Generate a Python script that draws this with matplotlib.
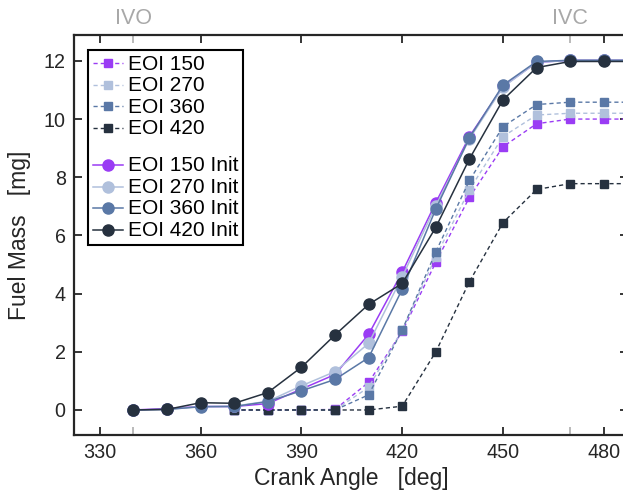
import matplotlib
matplotlib.use("Agg")
import matplotlib.pyplot as plt
from matplotlib.lines import Line2D
from matplotlib.ticker import FixedLocator

plt.rcParams['font.family'] = ['Liberation Sans', 'DejaVu Sans']

# crank angle points
ca_init = [340, 350, 360, 370, 380, 390, 400, 410, 420, 430, 440, 450, 460, 470, 480, 490]
ca_eoi = [370, 380, 390, 400, 410, 420, 430, 440, 450, 460, 470, 480, 490]

# fuel mass [mg], dashed series (square markers)
eoi150 = [0, 0, 0, 0.02, 0.95, 2.70, 5.08, 7.31, 9.05, 9.84, 10.0, 10.0, 10.0]
eoi270 = [0, 0, 0, 0, 0.78, 2.75, 5.27, 7.57, 9.40, 10.14, 10.2, 10.2, 10.2]
eoi360 = [0, 0, 0, 0, 0.52, 2.75, 5.44, 7.89, 9.74, 10.50, 10.58, 10.58, 10.58]
eoi420 = [0, 0, 0, 0, 0, 0.13, 2.00, 4.41, 6.44, 7.58, 7.78, 7.78, 7.78]

# solid "Init" series (circle markers)
eoi150_init = [0, 0.05, 0.12, 0.12, 0.22, 0.72, 1.22, 2.60, 4.74, 7.13, 9.40, 11.12, 11.95, 12.02, 12.02, 12.02]
eoi270_init = [0, 0.02, 0.12, 0.13, 0.30, 0.83, 1.32, 2.29, 4.58, 7.02, 9.32, 11.10, 11.95, 12.02, 12.02, 12.02]
eoi360_init = [0, 0.02, 0.11, 0.12, 0.29, 0.66, 1.05, 1.80, 4.15, 6.91, 9.36, 11.17, 11.98, 12.02, 12.02, 12.02]
eoi420_init = [0, 0.02, 0.25, 0.23, 0.60, 1.47, 2.58, 3.63, 4.35, 6.28, 8.63, 10.66, 11.77, 11.98, 11.98, 11.98]

labels = ["EOI 150", "EOI 270", "EOI 360", "EOI 420"]
colors = ["#9a3cf4", "#b0c0dc", "#5a78a6", "#26313f"]

fig = plt.figure(figsize=(6.23, 4.95), dpi=100)
W, H = 623, 495
ax = fig.add_axes([74 / W, 60 / H, (628 - 74) / W, 400 / H])

handles = []
for ys, lab, c in zip([eoi150, eoi270, eoi360, eoi420], labels, colors):
    ln, = ax.plot(ca_eoi, ys, color=c, linestyle="--", dashes=(3, 2.2), linewidth=1.0,
                  marker="s", markersize=6.3, markerfacecolor=c, markeredgecolor=c,
                  label=lab)
    handles.append(ln)

spacer = Line2D([], [], linestyle="none", label="")
handles.append(spacer)

for ys, lab, c in zip([eoi150_init, eoi270_init, eoi360_init, eoi420_init], labels, colors):
    ln, = ax.plot(ca_init, ys, color=c, linestyle="-", linewidth=1.1,
                  marker="o", markersize=8, markerfacecolor=c, markeredgecolor=c,
                  label=lab + " Init")
    handles.append(ln)

ax.set_xlim(322.3, 487.2)
ax.set_ylim(-0.86, 12.89)
ax.set_xticks([330, 360, 390, 420, 450, 480])
ax.set_yticks([0, 2, 4, 6, 8, 10, 12])
ax.xaxis.set_minor_locator(FixedLocator([340, 470]))
ax.tick_params(which="major", direction="in", length=6, width=1.3, color="#262626",
               top=True, right=True, labelsize=14.2, labelcolor="#262626", pad=6)
ax.tick_params(which="minor", direction="in", length=6, width=1.3, color="#b4b4b4",
               top=True, bottom=True)
for sp in ax.spines.values():
    sp.set_linewidth(1.6)
    sp.set_color("#262626")

ax.set_xlabel("Crank Angle   [deg]", fontsize=16.5, color="#262626", labelpad=3)
ax.set_ylabel("Fuel Mass   [mg]", fontsize=16.5, color="#262626", labelpad=9)

sec = ax.secondary_xaxis("top")
sec.set_xticks([340, 470])
sec.set_xticklabels(["IVO", "IVC"])
sec.tick_params(length=0, labelsize=15.5, labelcolor="#a8a8a8", pad=4)
sec.spines["top"].set_visible(False)

leg = ax.legend(handles=handles, labels=[h.get_label() for h in handles],
                loc="upper left", bbox_to_anchor=(14 / 554, 385 / 400), borderaxespad=0,
                fontsize=15, handlelength=1.45, handleheight=0.35, handletextpad=0.25,
                borderpad=0.22, labelspacing=0.12, fancybox=False, framealpha=1,
                edgecolor="black")
leg.get_frame().set_linewidth(1.5)
leg.get_texts()[4].set_fontsize(2)

fig.savefig("out.png", dpi=100)
